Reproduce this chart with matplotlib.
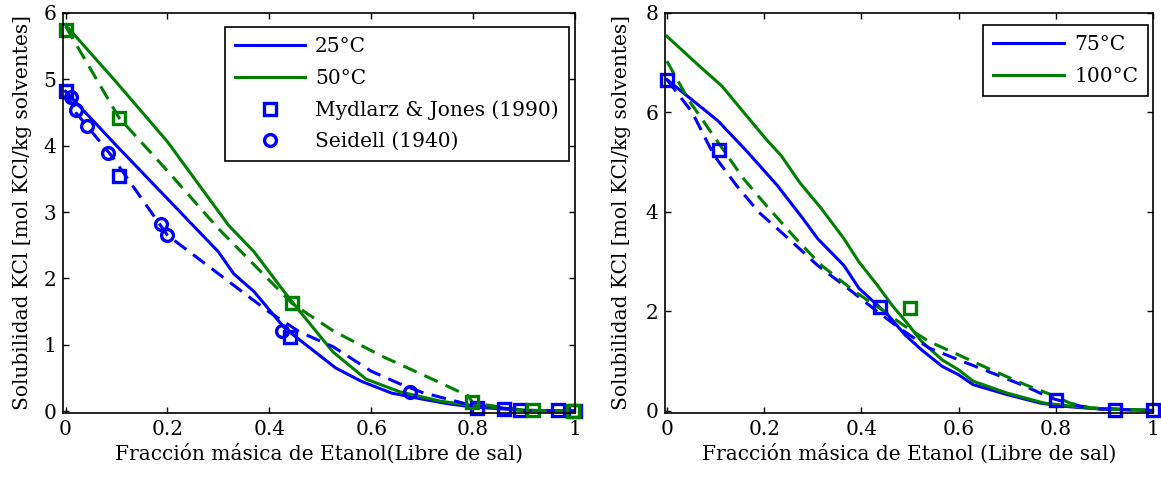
import matplotlib
matplotlib.use("Agg")
import matplotlib.pyplot as plt

#======================================================================#
# Solubilidad de KCl en mezclas agua-etanol a varias temperaturas.
#======================================================================#

plt.rcParams['font.family'] = ['DejaVu Serif']
plt.rcParams['font.size'] = 14.5

blue = (0, 0, 1)
green = (0, 0.5, 0)

#Curvas del modelo, 25 C
x25 = [0, 0.1, 0.2, 0.3, 0.33, 0.37, 0.43, 0.48, 0.53, 0.58, 0.64, 0.7, 0.75, 0.8, 0.9, 1.0]
y25 = [4.82, 4.0, 3.2, 2.4, 2.07, 1.8, 1.25, 0.95, 0.65, 0.45, 0.27, 0.18, 0.11, 0.06, 0.01, 0.0]
x25d = [0, 0.02, 0.045, 0.09, 0.2, 0.3, 0.4, 0.46, 0.525, 0.6, 0.656, 0.7, 0.79, 0.9, 1.0]
y25d = [4.82, 4.5, 4.27, 3.85, 2.65, 2.07, 1.49, 1.19, 0.97, 0.6, 0.41, 0.28, 0.1, 0.01, 0.0]

#Curvas del modelo, 50 C
x50 = [0, 0.096, 0.2, 0.32, 0.37, 0.43, 0.46, 0.525, 0.59, 0.656, 0.735, 0.79, 0.9, 1.0]
y50 = [5.82, 4.99, 4.06, 2.8, 2.4, 1.79, 1.5, 0.89, 0.48, 0.29, 0.15, 0.09, 0.01, 0.0]
x50d = [0, 0.105, 0.2, 0.3, 0.445, 0.525, 0.62, 0.72, 0.79, 0.8, 0.9, 1.0]
y50d = [5.8, 4.42, 3.62, 2.75, 1.62, 1.21, 0.83, 0.48, 0.23, 0.12, 0.01, 0.0]

#Datos experimentales (izquierda)
mjx25 = [0, 0.105, 0.44, 0.807, 0.86, 0.892, 0.967, 1.0]
mjy25 = [4.82, 3.55, 1.12, 0.04, 0.03, 0.01, 0.01, 0.0]
mjx50 = [0, 0.105, 0.445, 0.797, 0.918, 0.996]
mjy50 = [5.75, 4.42, 1.63, 0.13, 0.01, 0.0]
sx25 = [0.01, 0.021, 0.042, 0.084, 0.187, 0.2, 0.424, 0.676]
sy25 = [4.74, 4.54, 4.29, 3.89, 2.82, 2.65, 1.21, 0.28]

#Curvas del modelo, 75 C y 100 C
x75 = [0, 0.105, 0.166, 0.227, 0.28, 0.31, 0.364, 0.395, 0.433, 0.455, 0.49, 0.524,
       0.566, 0.6, 0.63, 0.7, 0.768, 0.81, 0.874, 1.0]
y75 = [6.66, 5.83, 5.2, 4.53, 3.86, 3.46, 2.92, 2.46, 2.12, 1.92, 1.52, 1.22,
       0.89, 0.72, 0.52, 0.32, 0.15, 0.09, 0.04, 0.0]
x100 = [0, 0.067, 0.113, 0.158, 0.204, 0.235, 0.273, 0.318, 0.364, 0.395, 0.433, 0.463,
        0.494, 0.524, 0.566, 0.6, 0.63, 0.7, 0.776, 0.829, 0.89, 1.0]
y100 = [7.53, 6.93, 6.53, 6.0, 5.46, 5.13, 4.59, 4.06, 3.46, 2.99, 2.52, 2.12,
        1.76, 1.39, 1.02, 0.82, 0.59, 0.35, 0.15, 0.09, 0.04, 0.0]
x75d = [0, 0.052, 0.097, 0.143, 0.189, 0.25, 0.31, 0.372, 0.433, 0.478, 0.539, 0.6,
        0.66, 0.737, 0.79, 0.85, 0.89, 1.0]
y75d = [6.66, 6.0, 5.13, 4.53, 3.99, 3.46, 2.92, 2.46, 1.99, 1.66, 1.26, 1.02,
        0.79, 0.49, 0.25, 0.09, 0.03, 0.0]
x100d = [0, 0.044, 0.105, 0.158, 0.204, 0.265, 0.318, 0.387, 0.448, 0.486, 0.539, 0.6,
         0.66, 0.737, 0.798, 0.829, 0.874, 1.0]
y100d = [7.03, 6.26, 5.4, 4.66, 4.13, 3.46, 2.92, 2.39, 1.99, 1.72, 1.39, 1.12,
         0.85, 0.52, 0.29, 0.15, 0.05, 0.0]

#Datos experimentales (derecha)
mjx75 = [0, 0.107, 0.439, 0.8, 0.922, 1.0]
mjy75 = [6.66, 5.25, 2.09, 0.22, 0.01, 0.01]
mjx100 = [0.501]
mjy100 = [2.07]

xticks = [0, 0.2, 0.4, 0.6, 0.8, 1]
xticklabels = ['0', '0.2', '0.4', '0.6', '0.8', '1']
ylabel = 'Solubilidad KCl [mol KCl/kg solventes]'

lw = 2.2
ms = 8.5
mew = 2.4
dash = (4.8, 2.8)

#Ajusta el formato de los ejes al estilo de MATLAB.
def formatAxis(ax, pad):
    ax.set_xticks(xticks)
    ax.set_xticklabels(xticklabels)
    ax.tick_params(direction='in', top=True, right=True, length=4, width=1, pad=5)
    for s in ax.spines.values():
        s.set_linewidth(1.2)
    ax.set_ylabel(ylabel, labelpad=pad)

fig = plt.figure(figsize=(11.61, 4.82), dpi=100)

#Grafica izquierda: 25 C y 50 C
ax1 = fig.add_axes([63/1161, 1 - 413/482, 512/1161, 400/482])
ax1.plot(x25, y25, '-', color=blue, lw=lw, label='25°C')
ax1.plot(x50, y50, '-', color=green, lw=lw, label='50°C')
ax1.plot(x25d, y25d, '--', color=blue, lw=lw, dashes=dash)
ax1.plot(x50d, y50d, '--', color=green, lw=lw, dashes=dash)
ax1.plot(mjx25, mjy25, 's', color=blue, mfc='none', ms=ms, mew=mew, clip_on=False,
         label='Mydlarz & Jones (1990)')
ax1.plot(mjx50, mjy50, 's', color=green, mfc='none', ms=ms, mew=mew, clip_on=False)
ax1.plot(sx25, sy25, 'o', color=blue, mfc='none', ms=ms, mew=mew, clip_on=False,
         label='Seidell (1940)')
ax1.set_xlim(-0.005, 1.0)
ax1.set_ylim(-0.03, 6)
ax1.set_yticks([0, 1, 2, 3, 4, 5, 6])
formatAxis(ax1, 8)
ax1.set_xlabel('Fracción másica de Etanol(Libre de sal)', labelpad=3)
leg1 = ax1.legend(loc='upper right', bbox_to_anchor=(0.988, 0.965), handlelength=3.5,
                  fancybox=False, edgecolor='black', framealpha=1, borderpad=0.5,
                  labelspacing=0.62, handletextpad=0.5, borderaxespad=0)
leg1.get_frame().set_linewidth(1.2)

#Grafica derecha: 75 C y 100 C
ax2 = fig.add_axes([665/1161, 1 - 413/482, 488/1161, 400/482])
ax2.plot(x75, y75, '-', color=blue, lw=lw, label='75°C')
ax2.plot(x100, y100, '-', color=green, lw=lw, label='100°C')
ax2.plot(x75d, y75d, '--', color=blue, lw=lw, dashes=dash)
ax2.plot(x100d, y100d, '--', color=green, lw=lw, dashes=dash)
ax2.plot(mjx75, mjy75, 's', color=blue, mfc='none', ms=ms, mew=mew, clip_on=False)
ax2.plot(mjx100, mjy100, 's', color=green, mfc='none', ms=ms, mew=mew, clip_on=False)
ax2.set_xlim(-0.004, 1.0)
ax2.set_ylim(-0.05, 8)
ax2.set_yticks([0, 2, 4, 6, 8])
formatAxis(ax2, 10)
ax2.set_xlabel('Fracción másica de Etanol (Libre de sal)', labelpad=3)
leg2 = ax2.legend(loc='upper right', bbox_to_anchor=(0.99, 0.97), handlelength=3.5,
                  fancybox=False, edgecolor='black', framealpha=1, borderpad=0.5,
                  labelspacing=0.62, handletextpad=0.5, borderaxespad=0)
leg2.get_frame().set_linewidth(1.2)

fig.savefig('out.png', dpi=100)
